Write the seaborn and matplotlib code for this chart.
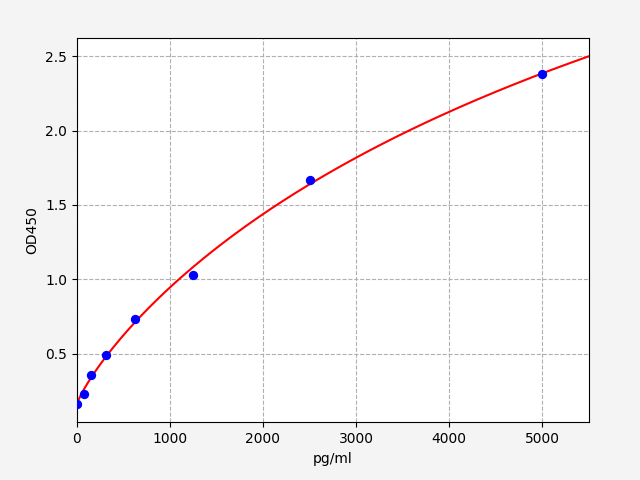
import numpy as np
import pandas as pd
import matplotlib
matplotlib.use("Agg")
import matplotlib.pyplot as plt
import seaborn as sns

# 标准品浓度与OD值
conc = [0, 78, 156, 312, 625, 1250, 2500, 5000]
od450 = [0.164, 0.225, 0.359, 0.493, 0.735, 1.03, 1.668, 2.379]

df = pd.DataFrame({"pg/ml": conc, "OD450": od450})


def four_pl(x, p):
    a, b, c, d = p
    return d + (a - d) / (1 + (np.abs(x) / c) ** b)


def fit_4pl(x, y, p0, n_iter=500):
    """简单的 Levenberg-Marquardt 拟合"""
    p = np.array(p0, dtype=float)
    lam = 1e-3
    err = np.sum((four_pl(x, p) - y) ** 2)
    for _ in range(n_iter):
        r = y - four_pl(x, p)
        J = np.zeros((len(x), len(p)))
        for k in range(len(p)):
            dp = np.zeros_like(p)
            dp[k] = 1e-6 * max(abs(p[k]), 1.0)
            J[:, k] = (four_pl(x, p + dp) - four_pl(x, p)) / dp[k]
        A = J.T @ J
        g = J.T @ r
        step = np.linalg.solve(A + lam * np.diag(np.diag(A)), g)
        p_new = p + step
        if p_new[1] <= 0 or p_new[2] <= 0:
            lam *= 10
            continue
        new_err = np.sum((four_pl(x, p_new) - y) ** 2)
        if new_err < err:
            p, err = p_new, new_err
            lam /= 3
        else:
            lam *= 10
    return p


x = np.array(conc, dtype=float)
y = np.array(od450, dtype=float)
params = fit_4pl(x, y, [0.17, 1.0, 5000.0, 4.5])

x_fit = np.linspace(0, 5500, 300)
fit_df = pd.DataFrame({"pg/ml": x_fit, "OD450": four_pl(x_fit, params)})

fig, ax = plt.subplots(figsize=(6.4, 4.8), dpi=100)
fig.patch.set_facecolor("#f4f4f4")
ax.set_facecolor("white")

sns.lineplot(data=fit_df, x="pg/ml", y="OD450", color="red", linewidth=1.5, ax=ax, zorder=2)
sns.scatterplot(data=df, x="pg/ml", y="OD450", color="blue", s=45, edgecolor="blue",
                linewidth=0, ax=ax, zorder=3)

ax.set_xlim(0, 5500)
ax.set_ylim(0.037, 2.62)
ax.grid(True, linestyle="--", color="#b0b0b0", linewidth=0.8)
ax.set_axisbelow(True)
ax.set_xlabel("pg/ml")
ax.set_ylabel("OD450")

fig.subplots_adjust(left=0.12, right=0.92, top=0.92, bottom=0.12)
fig.savefig("out.png", dpi=100, facecolor=fig.get_facecolor())
